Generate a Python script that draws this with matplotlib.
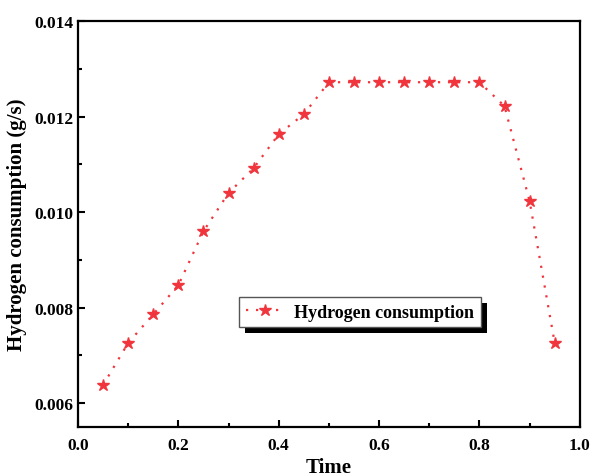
import matplotlib
matplotlib.use('Agg')
import matplotlib.pyplot as plt
from matplotlib.ticker import MultipleLocator
from matplotlib.patches import Rectangle

plt.rcParams['font.family'] = ['Liberation Serif', 'DejaVu Serif']
plt.rcParams['font.weight'] = 'bold'

# datos
time = [0.05, 0.10, 0.15, 0.20, 0.25, 0.30, 0.35, 0.40, 0.45, 0.50,
        0.55, 0.60, 0.65, 0.70, 0.75, 0.80, 0.85, 0.90, 0.95]
h2 = [0.00638, 0.00726, 0.00786, 0.00847, 0.00960, 0.01040, 0.01092,
      0.01163, 0.01205, 0.01272, 0.01272, 0.01272, 0.01272, 0.01272,
      0.01272, 0.01272, 0.01222, 0.01023, 0.00726]

fig = plt.figure(figsize=(5.91, 4.77), dpi=100)
ax = fig.add_axes([0.132, 0.1027, 0.849, 0.851])

ax.plot(time, h2, color='#f0353d', linestyle=(0, (1, 3.5)), linewidth=1.6,
        marker='*', markersize=9, label='Hydrogen consumption')

ax.set_xlim(0, 1.0)
ax.set_ylim(0.0055, 0.014)
ax.xaxis.set_major_locator(MultipleLocator(0.2))
ax.xaxis.set_minor_locator(MultipleLocator(0.1))
ax.yaxis.set_major_locator(MultipleLocator(0.002))
ax.yaxis.set_minor_locator(MultipleLocator(0.001))
ax.tick_params(which='both', direction='in', labelsize=12.5, width=1.5)
ax.tick_params(which='major', length=5)
ax.tick_params(which='minor', length=3)
ax.tick_params(axis='x', pad=7)
for s in ax.spines.values():
    s.set_linewidth(1.6)

ax.set_xlabel('Time', fontsize=15, fontweight='bold', labelpad=3)
ax.set_ylabel('Hydrogen consumption (g/s)', fontsize=15, fontweight='bold', labelpad=5)

leg = ax.legend(loc='center', bbox_to_anchor=(0.562, 0.283), fontsize=13,
                fancybox=False, edgecolor='#555555', framealpha=1,
                handlelength=2.2, handletextpad=0.5, borderpad=0.35)
leg.get_frame().set_linewidth(1.0)

# sombra negra del recuadro de la leyenda
fig.canvas.draw()
bb = leg.get_window_extent()
sh = Rectangle((bb.x0 + 6, bb.y0 - 6), bb.width, bb.height, transform=None,
               facecolor='black', edgecolor='none', clip_on=False, zorder=4.9)
ax.add_patch(sh)

fig.savefig('out.png', dpi=100)
